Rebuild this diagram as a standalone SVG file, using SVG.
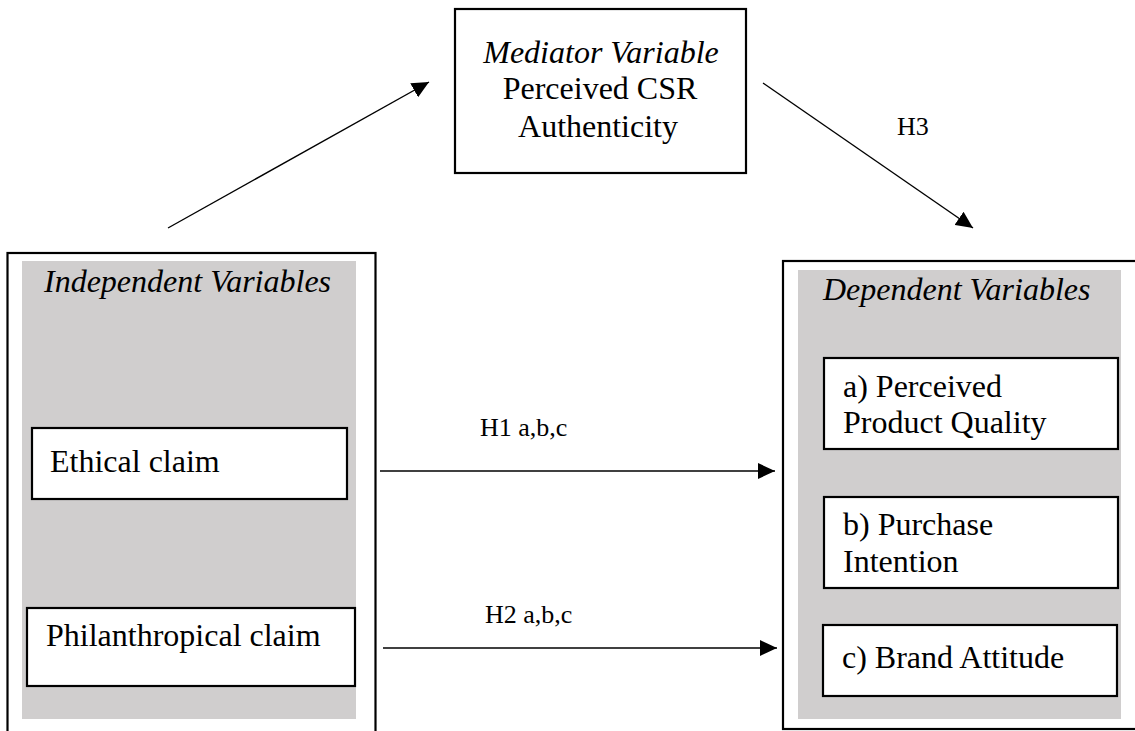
<svg xmlns="http://www.w3.org/2000/svg" width="1135" height="731" viewBox="0 0 1135 731">
  <style>
    text { font-family: 'Liberation Serif', 'DejaVu Serif', serif; fill: #000; }
    .t { font-size: 32px; }
    .it { font-style: italic; }
    .lbl { font-size: 26px; }
    .outer { fill: #fff; stroke: #000; stroke-width: 2.2; }
    .gray { fill: #d0cece; stroke: none; }
    .box { fill: #fff; stroke: #000; stroke-width: 2.2; }
    .conn { stroke: #000; stroke-width: 1.4; fill: none; marker-end: url(#arrow); }
  </style>
  <defs>
    <marker id="arrow" markerUnits="userSpaceOnUse" markerWidth="18" markerHeight="16" refX="17" refY="8" orient="auto">
      <path d="M0,0 L17,8 L0,16 Z" fill="#000"/>
    </marker>
  </defs>
  <rect width="1135" height="731" fill="#fff"/>

  <g font-family="Liberation Serif, serif">
  <g id="independent">
    <rect class="outer" x="7.5" y="253" width="368" height="500"/>
    <rect class="gray" x="22" y="261" width="334" height="458"/>
    <text class="t it" x="44" y="292">Independent Variables</text>
  </g>
  <g id="ethical">
    <rect class="box" x="32" y="428" width="315" height="71"/>
    <text class="t" x="50" y="472">Ethical claim</text>
  </g>
  <g id="philanthropical">
    <rect class="box" x="27" y="608" width="328" height="78"/>
    <text class="t" x="46" y="646">Philanthropical claim</text>
  </g>

  <g id="mediator">
    <rect class="box" x="455" y="9" width="291" height="164"/>
    <text class="t it" x="601" y="63" text-anchor="middle">Mediator Variable</text>
    <text class="t" x="600" y="99" text-anchor="middle">Perceived CSR</text>
    <text class="t" x="598" y="137" text-anchor="middle">Authenticity</text>
  </g>

  <g id="dependent">
    <rect class="outer" x="783" y="261" width="370" height="468"/>
    <rect class="gray" x="798" y="270" width="323" height="449"/>
    <text class="t it" x="823" y="300">Dependent Variables</text>
  </g>
  <g id="quality">
    <rect class="box" x="824" y="358" width="294" height="91"/>
    <text class="t" x="843" y="397">a) Perceived</text>
    <text class="t" x="843" y="433">Product Quality</text>
  </g>
  <g id="purchase">
    <rect class="box" x="824" y="497" width="294" height="91"/>
    <text class="t" x="843" y="535">b) Purchase</text>
    <text class="t" x="843" y="572">Intention</text>
  </g>
  <g id="attitude">
    <rect class="box" x="823" y="625" width="294" height="71"/>
    <text class="t" x="842" y="668">c) Brand Attitude</text>
  </g>

  <g id="connectors">
    <line class="conn" x1="168" y1="228" x2="429" y2="82"/>
    <line class="conn" x1="763" y1="83" x2="973" y2="228"/>
    <line class="conn" x1="380" y1="471" x2="775" y2="471"/>
    <line class="conn" x1="383" y1="648" x2="777" y2="648"/>
    <text class="lbl" x="897" y="135">H3</text>
    <text class="lbl" x="480" y="436">H1 a,b,c</text>
    <text class="lbl" x="485" y="623">H2 a,b,c</text>
  </g>
  </g>
</svg>
